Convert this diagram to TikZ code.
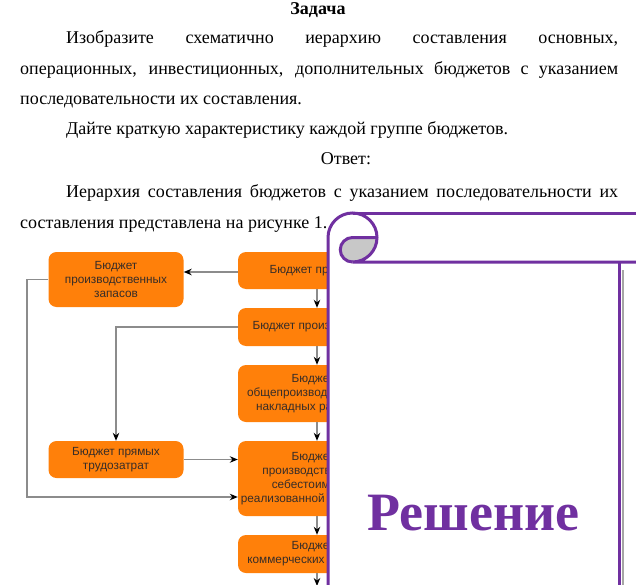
\documentclass[tikz,border=0pt]{standalone}
\usepackage{fontspec}
\setmainfont{Liberation Serif}
\setsansfont{Liberation Sans}
\usetikzlibrary{arrows.meta}
\definecolor{boxorange}{RGB}{255,128,10}
\definecolor{txtgray}{RGB}{55,45,40}
\definecolor{linegray}{RGB}{140,140,140}
\definecolor{scrollpurple}{RGB}{112,48,160}
\definecolor{curlgray}{RGB}{200,200,200}
\tikzset{
  para/.style={anchor=base west, inner sep=0pt, font=\fontsize{18}{21}\selectfont},
  bx/.style={rectangle, rounded corners=8pt, fill=boxorange, draw=none, inner sep=0pt,
     font=\sffamily\fontsize{11.8}{14}\selectfont, text=txtgray, align=center},
  arr/.style={draw=linegray, line width=1.2pt, -{Stealth[black,length=8pt,width=6.5pt]}},
  scrl/.style={draw=scrollpurple, line width=3pt}
}
\begin{document}
\begin{tikzpicture}[x=1pt,y=-1pt]
\useasboundingbox (0,0) rectangle (636,585);
\fill[white] (0,0) rectangle (636,585);
% text
\node[anchor=base, inner sep=0pt, font=\fontsize{18}{21}\bfseries\selectfont] (t0) at (318,15) {Задача};
\node[para] (t1) at (66,44) {\makebox[552pt][s]{Изобразите схематично иерархию составления основных,}};
\node[para] (t2) at (20,75) {\makebox[598pt][s]{операционных, инвестиционных, дополнительных бюджетов с указанием}};
\node[para] (t3) at (20,105) {последовательности их составления.};
\node[para] (t4) at (66,135) {Дайте краткую характеристику каждой группе бюджетов.};
\node[anchor=base, inner sep=0pt, font=\fontsize{18}{21}\selectfont] (t5) at (346,165) {Ответ:};
\node[para] (t6) at (66,198) {\makebox[552pt][s]{Иерархия составления бюджетов с указанием последовательности их}};
\node[para] (t7) at (20,229) {составления представлена на рисунке 1.};
% flowchart
\node[bx, minimum width=135pt, minimum height=55pt] (b1) at (116,279.5) {Бюджет\\производственных\\запасов};
\node[bx, minimum width=135pt, minimum height=37pt] (bt) at (116,459.5) {Бюджет прямых\\трудозатрат};
\node[bx, minimum width=150pt, minimum height=37pt] (b2) at (313,270.5) {Бюджет продаж};
\node[bx, minimum width=150pt, minimum height=38pt] (b3) at (313,327) {Бюджет производства};
\node[bx, minimum width=150pt, minimum height=57pt] (b4) at (313,393.5) {Бюджет\\общепроизводственных\\накладных расходов};
\node[bx, minimum width=150pt, minimum height=75pt] (b5) at (313,478.5) {Бюджет\\производственной\\себестоимости\\реализованной\phantom{ продукции}};
\node[bx, minimum width=150pt, minimum height=38pt] (b6) at (313,554) {Бюджет\\коммерческих расходов};
\coordinate (b7) at (317,586);
\coordinate (L1) at (27,497);
\draw[arr] (b2.west |- 0,272) -- (b1.east |- 0,272);
\draw[arr] ([xshift=4pt]b2.south) -- ([xshift=4pt]b3.north);
\draw[arr] ([xshift=4pt]b3.south) -- ([xshift=4pt]b4.north);
\draw[arr] ([xshift=4pt]b4.south) -- ([xshift=4pt]b5.north);
\draw[arr] ([xshift=4pt]b5.south) -- ([xshift=4pt]b6.north);
\draw[arr] ([xshift=4pt]b6.south) -- (b7);
\draw[arr] (b1.west) -| (L1) -- (b5.west |- L1);
\draw[arr] (b3.west) -| (bt.north);
\draw[arr] (bt.east) -- (b5.west |- bt.east);
% scroll
\fill[white] (328,237.5) rectangle (619,590);
\fill[white] (352.5,213) rectangle (640,262);
\fill[white] (352.5,237.5) circle (24.5);
\fill[curlgray] (377,237.5) arc[start angle=0,end angle=90,radius=24.5]
   arc[start angle=90,end angle=270,radius=12.25] -- cycle;
\draw[scrl] (328,590) -- (328,237.5) arc[start angle=180,end angle=450,radius=24.5] -- (640,262);
\draw[scrl] (352.5,213) -- (640,213);
\draw[scrl] (377,237.5) -- (352.5,237.5) arc[start angle=270,end angle=90,radius=12.25];
\draw[scrl] (619,262) -- (619,590);
\draw[draw=black!35, line width=1.6pt] (623,270) -- (623,590);
\node[anchor=base, inner sep=0pt, text=scrollpurple, font=\fontsize{54}{54}\bfseries\selectfont] (sol) at (473.5,530) {Решение};
\end{tikzpicture}
\end{document}
